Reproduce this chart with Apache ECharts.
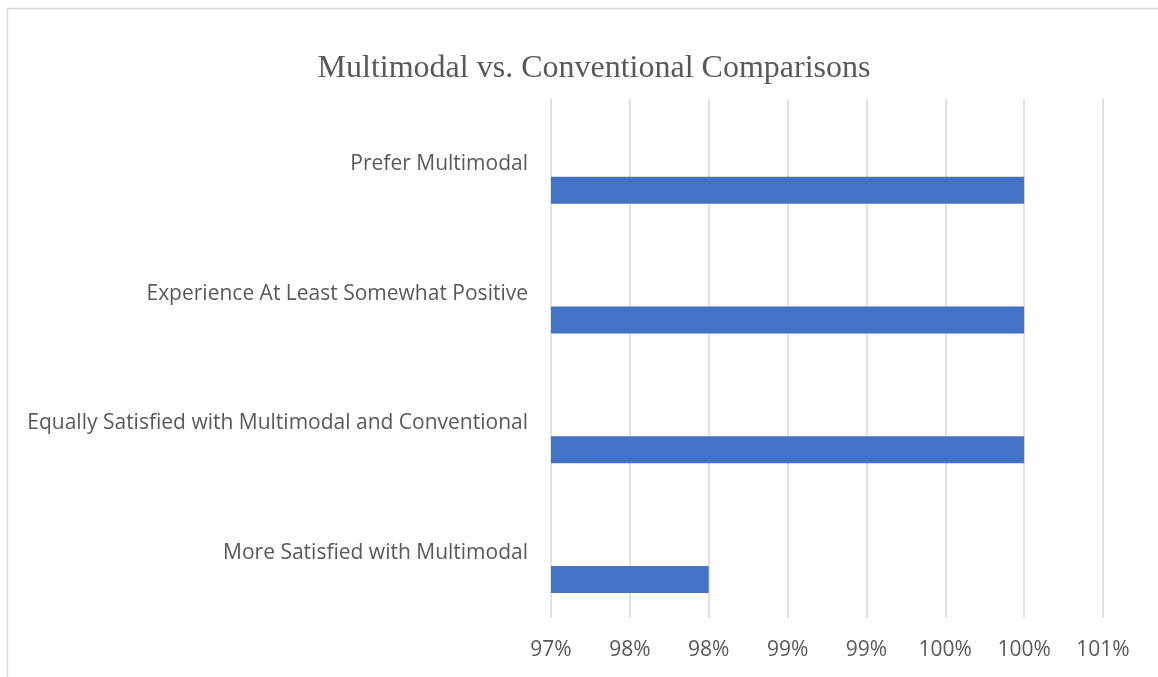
<!DOCTYPE html>
<html>
<head>
<meta charset="utf-8">
<script src="https://cdn.jsdelivr.net/npm/echarts@6/dist/echarts.min.js"></script>
<style>
    html, body { margin: 0; padding: 0; background: #fff; }
    #chart { width: 1158px; height: 677px; }
</style>
</head>
<body>
<div id="chart"></div>
<script>
// categories listed bottom to top, as the category axis draws them
const categories = [
    'More Satisfied with Multimodal',
    'Equally Satisfied with Multimodal and Conventional',
    'Experience At Least Somewhat Positive',
    'Prefer Multimodal'
];
const shares = [0.98, 1, 1, 1];
const emptySlot = ['-', '-', '-', '-'];

const xMin = 0.97;
const xMax = 1.005;
const xStep = 0.005;

let chartDom = document.getElementById('chart');
let myChart = echarts.init(chartDom);

const textColor = '#595959';
const gridColor = '#d9d9d9';

const option = {
    animation: false,
    title: {
        text: 'Multimodal vs. Conventional Comparisons',
        left: 589,
        top: 48,
        textAlign: 'center',
        textStyle: {
            fontFamily: 'Liberation Serif',
            fontWeight: 'normal',
            fontSize: 32,
            color: textColor,
        },
    },
    graphic: [
        {
            type: 'rect',
            shape: {x: 7.5, y: 8.5, width: 1200, height: 700},
            style: {fill: 'none', stroke: gridColor, lineWidth: 1.5},
            silent: true,
        },
    ],
    grid: {
        left: 551,
        right: 55,
        top: 99,
        bottom: 59,
    },
    xAxis: {
        type: 'value',
        min: xMin,
        max: xMax,
        interval: xStep,
        axisLine: {show: false},
        axisTick: {show: false},
        axisLabel: {
            margin: 22,
            fontFamily: 'Open Sans',
            fontSize: 21,
            color: textColor,
            formatter: v => Math.round(Math.round(v * 1000) / 10) + '%',
        },
        splitLine: {
            show: true,
            lineStyle: {color: gridColor, width: 1.5},
        },
    },
    yAxis: {
        type: 'category',
        data: categories,
        axisLine: {show: false},
        axisTick: {show: false},
        axisLabel: {
            margin: 23,
            fontFamily: 'Open Sans',
            fontSize: 21,
            color: textColor,
        },
    },
    series: [
        {
            name: 'spacer',
            type: 'bar',
            data: emptySlot,
            barWidth: 27,
            barGap: '96%',
            silent: true,
        },
        {
            name: 'Share',
            type: 'bar',
            data: shares,
            barWidth: 27,
            barGap: '96%',
            itemStyle: {color: '#4472C4'},
        },
    ],
};

myChart.setOption(option);
</script>
</body>
</html>
